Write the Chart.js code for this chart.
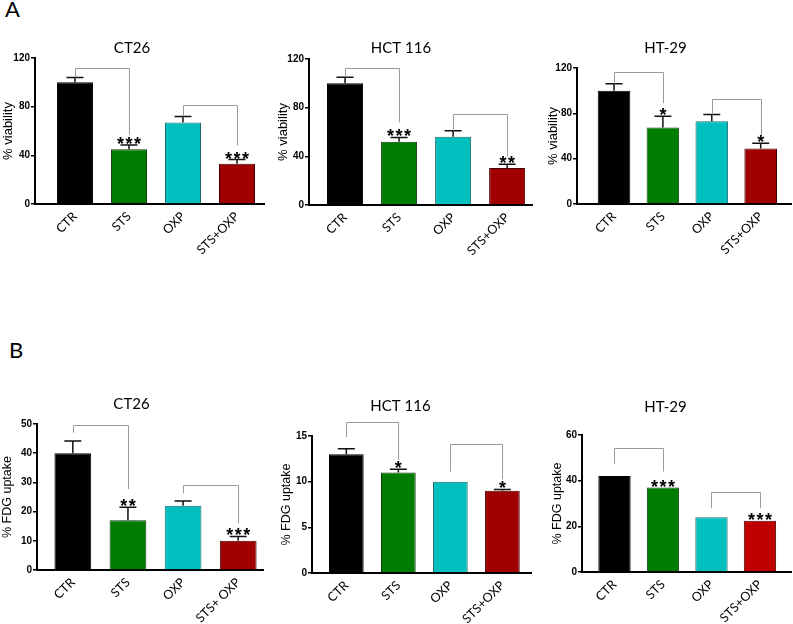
<!DOCTYPE html>
<html lang="en">
<head>
    <meta charset="UTF-8">
    <title>Viability and FDG uptake</title>
    <script src="https://cdn.jsdelivr.net/npm/chart.js"></script>
    <style>
        html, body {
            margin: 0;
            background: #FFFFFF;
            overflow: hidden;
        }

        #figure {
            position: relative;
            width: 793px;
            height: 624px;
            overflow: hidden;
            background: #FFFFFF;
        }

        #figure canvas {
            position: absolute;
        }

        .panel-letter {
            position: absolute;
            font-family: Lato, "Open Sans", sans-serif;
            font-size: 22px;
            color: #000;
        }
    </style>
</head>
<body>
    <div id="figure">
        <div class="panel-letter" style="left:5px; top:-5px;">A</div>
        <div class="panel-letter" style="left:9px; top:336px;">B</div>
        <canvas id="a1"></canvas>
        <canvas id="a2"></canvas>
        <canvas id="a3"></canvas>
        <canvas id="b1"></canvas>
        <canvas id="b2"></canvas>
        <canvas id="b3"></canvas>
    </div>

    <script>
        // Categories and colours
        const categories = ['CTR', 'STS', 'OXP', 'STS+OXP'];
        const categoriesB1 = ['CTR', 'STS', 'OXP', 'STS+ OXP'];
        const barColors = ['#000000', '#007c00', '#00bfbf', '#a00000'];
        const barColorsB3 = ['#000000', '#007c00', '#00bfbf', '#c00000'];
        const borderColors = ['#000000', '#0c3c0c', '#226a6a', '#400000'];

        // A - % viability
        const viabilityTicks = [0, 40, 80, 120];
        const viabilityCT26 = [100, 45, 67, 33];
        const viabilityCT26Err = [4, 3.5, 5, 3.5];
        const viabilityHCT = [100, 52, 56, 30.5];
        const viabilityHCTErr = [5, 3.5, 5, 3];
        const viabilityHT29 = [100, 67.5, 73, 49];
        const viabilityHT29Err = [6, 10, 6, 4.7];

        // B - % FDG uptake
        const fdgCT26Ticks = [0, 10, 20, 30, 40, 50];
        const fdgCT26 = [40, 17, 22, 10];
        const fdgCT26Err = [4.2, 4.5, 1.6, 1.5];
        const fdgHCTTicks = [0, 5, 10, 15];
        const fdgHCT = [13, 11, 10, 9];
        const fdgHCTErr = [0.6, 0.35, 0.05, 0.15];
        const fdgHT29Ticks = [0, 20, 40, 60];
        const fdgHT29 = [42, 37, 24, 22.5];
        const fdgHT29Err = [0, 0, 0, 0];

        // significance: [from bar, to bar, top value, left leg end, right leg end]
        const bracketsA1 = [[0, 1, 111.5, 104, 57], [2, 3, 81, 72, 48]];
        const bracketsA2 = [[0, 1, 113, 105, 68], [2, 3, 74.5, 61, 40]];
        const bracketsA3 = [[0, 1, 116.5, 106, 89], [2, 3, 92.3, 79, 59.5]];
        const bracketsB1 = [[0, 1, 49.5, 47, 27.7], [2, 3, 29.1, 26.3, 16]];
        const bracketsB2 = [[0, 1, 16.5, 14.9, 12.4], [2, 3, 14.1, 11.1, 10.25]];
        const bracketsB3 = [[0, 1, 54.3, 47.4, 44], [2, 3, 35, 27.9, 27.9]];
        const starsA1 = ['', '***', '', '***'];
        const starsA2 = ['', '***', '', '**'];
        const starsA3 = ['', '*', '', '*'];
        const starsB1 = ['', '**', '', '***'];
        const starsB2 = ['', '*', '', '*'];
        const starsB3 = ['', '***', '', '***'];

        Chart.defaults.font.family = '"Liberation Sans", Arial, sans-serif';
        Chart.defaults.color = '#000';

        // error bars, brackets and stars drawn over the bars
        function annotations(values, errors, brackets, stars) {
            return {
                id: 'annotations',
                afterDatasetsDraw(chart) {
                    const { ctx, scales: { x, y } } = chart;
                    ctx.save();
                    ctx.strokeStyle = '#111';
                    ctx.lineWidth = 1.5;
                    values.forEach((v, i) => {
                        if (!errors[i] || errors[i] < 0.1) return;
                        const px = x.getPixelForValue(i);
                        const y0 = y.getPixelForValue(v);
                        const y1 = y.getPixelForValue(v + errors[i]);
                        ctx.beginPath();
                        ctx.moveTo(px, y0);
                        ctx.lineTo(px, y1);
                        ctx.moveTo(px - 8.5, y1);
                        ctx.lineTo(px + 8.5, y1);
                        ctx.stroke();
                    });

                    ctx.strokeStyle = '#9a9a9a';
                    ctx.lineWidth = 1;
                    brackets.forEach(([a, b, top, lb, rb]) => {
                        const xa = Math.round(x.getPixelForValue(a)) + 0.5;
                        const xb = Math.round(x.getPixelForValue(b)) + 0.5;
                        const yt = Math.round(y.getPixelForValue(top)) + 0.5;
                        ctx.beginPath();
                        ctx.moveTo(xa, y.getPixelForValue(lb));
                        ctx.lineTo(xa, yt);
                        ctx.lineTo(xb, yt);
                        ctx.lineTo(xb, y.getPixelForValue(rb));
                        ctx.stroke();
                    });

                    ctx.fillStyle = '#000';
                    ctx.font = 'bold 18px "Liberation Sans", Arial, sans-serif';
                    ctx.textAlign = 'center';
                    ctx.textBaseline = 'alphabetic';
                    stars.forEach((s, i) => {
                        if (!s) return;
                        const px = x.getPixelForValue(i);
                        const py = y.getPixelForValue(values[i] + errors[i]);
                        for (let k = 0; k < s.length; k++) {
                            ctx.fillText(s[k], px + (k - (s.length - 1) / 2) * 8.5, py + 5);
                        }
                    });
                    ctx.restore();
                }
            };
        }

        function makeChart(cfg) {
            const canvas = document.getElementById(cfg.id);
            const [cl, ct, cw, ch] = cfg.box;
            const [al, at, ar, ab] = cfg.area;
            canvas.width = cw;
            canvas.height = ch;
            canvas.style.left = cl + 'px';
            canvas.style.top = ct + 'px';

            const yTitleSize = cfg.yTitleSize;
            const yTitleLine = yTitleSize * 1.2;
            const ticks = cfg.ticks;

            new Chart(canvas, {
                type: 'bar',
                data: {
                    datasets: [{
                        data: cfg.values.map((v, i) => ({ x: i, y: v })),
                        backgroundColor: cfg.colors,
                        borderColor: borderColors,
                        borderWidth: 1,
                        categoryPercentage: 1,
                        barPercentage: 0.667
                    }]
                },
                options: {
                    responsive: false,
                    animation: false,
                    layout: { padding: { left: 0, top: 0, bottom: 0, right: cl + cw - ar } },
                    plugins: {
                        legend: { display: false },
                        tooltip: { enabled: false },
                        title: {
                            display: true,
                            text: cfg.title,
                            color: '#000',
                            font: { family: 'Lato, "Open Sans", sans-serif', size: 15, weight: 'normal', lineHeight: 1.2 },
                            padding: { top: cfg.titleY - ct - 9, bottom: at - cfg.titleY - 9 }
                        }
                    },
                    scales: {
                        x: {
                            type: 'linear',
                            min: cfg.xRange[0],
                            max: cfg.xRange[1],
                            offset: false,
                            afterBuildTicks: s => { s.ticks = cfg.labels.map((c, i) => ({ value: i })); },
                            afterFit: s => { s.height = ct + ch - ab; },
                            grid: { display: true, drawOnChartArea: false, drawTicks: false, offset: false },
                            border: { display: true, color: '#000', width: 2 },
                            ticks: {
                                autoSkip: false,
                                minRotation: 45,
                                maxRotation: 45,
                                padding: 5,
                                color: '#000',
                                font: { family: 'Lato, "Open Sans", sans-serif', size: 12.5 },
                                callback: v => cfg.labels[v] ?? ''
                            }
                        },
                        y: {
                            min: ticks[0],
                            max: ticks[ticks.length - 1],
                            afterBuildTicks: s => { s.ticks = ticks.map(v => ({ value: v })); },
                            afterFit: s => { s.width = al - cl; },
                            grid: { drawOnChartArea: false, drawTicks: true, tickLength: 4, color: '#000', lineWidth: 1.5 },
                            border: { display: true, color: '#000', width: 2 },
                            ticks: {
                                padding: 1,
                                color: '#000',
                                font: { size: 10, weight: 'bold' }
                            },
                            title: {
                                display: true,
                                text: cfg.yTitle,
                                color: '#000',
                                font: { size: yTitleSize, lineHeight: 1.2 },
                                padding: { top: Math.max(cfg.yTitleX - cl - yTitleLine / 2, 0), bottom: 0 }
                            }
                        }
                    }
                },
                plugins: [annotations(cfg.values, cfg.errors, cfg.brackets, cfg.stars)]
            });
        }

        makeChart({
            id: 'a1', title: 'CT26', yTitle: '% viability', yTitleSize: 13,
            labels: categories, colors: barColors, ticks: viabilityTicks,
            values: viabilityCT26, errors: viabilityCT26Err, brackets: bracketsA1, stars: starsA1,
            box: [0, 25, 320, 245], area: [35, 58, 264, 204], titleY: 48, yTitleX: 8, xRange: [-0.74, 3.5]
        });
        makeChart({
            id: 'a2', title: 'HCT 116', yTitle: '% viability', yTitleSize: 13,
            labels: categories, colors: barColors, ticks: viabilityTicks,
            values: viabilityHCT, errors: viabilityHCTErr, brackets: bracketsA2, stars: starsA2,
            box: [270, 25, 330, 245], area: [309, 59, 532, 205], titleY: 48, yTitleX: 283, xRange: [-0.667, 3.46]
        });
        makeChart({
            id: 'a3', title: 'HT-29', yTitle: '% viability', yTitleSize: 13,
            labels: categories, colors: barColors, ticks: viabilityTicks,
            values: viabilityHT29, errors: viabilityHT29Err, brackets: bracketsA3, stars: starsA3,
            box: [540, 25, 303, 245], area: [577, 68, 791, 204], titleY: 47.7, yTitleX: 553, xRange: [-0.757, 3.62]
        });
        makeChart({
            id: 'b1', title: 'CT26', yTitle: '% FDG uptake', yTitleSize: 12.5,
            labels: categoriesB1, colors: barColors, ticks: fdgCT26Ticks,
            values: fdgCT26, errors: fdgCT26Err, brackets: bracketsB1, stars: starsB1,
            box: [0, 380, 320, 244], area: [37, 424, 263, 570], titleY: 404, yTitleX: 7, xRange: [-0.65, 3.45]
        });
        makeChart({
            id: 'b2', title: 'HCT 116', yTitle: '% FDG uptake', yTitleSize: 12.5,
            labels: categories, colors: barColors, ticks: fdgHCTTicks,
            values: fdgHCT, errors: fdgHCTErr, brackets: bracketsB2, stars: starsB2,
            box: [270, 380, 285, 244], area: [312, 436, 531, 573], titleY: 406, yTitleX: 287, xRange: [-0.66, 3.55]
        });
        makeChart({
            id: 'b3', title: 'HT-29', yTitle: '% FDG uptake', yTitleSize: 12.5,
            labels: categories, colors: barColorsB3, ticks: fdgHT29Ticks,
            values: fdgHT29, errors: fdgHT29Err, brackets: bracketsB3, stars: starsB3,
            box: [540, 380, 301, 244], area: [582, 435, 791, 572], titleY: 407, yTitleX: 558, xRange: [-0.67, 3.64]
        });
    </script>
</body>
</html>
